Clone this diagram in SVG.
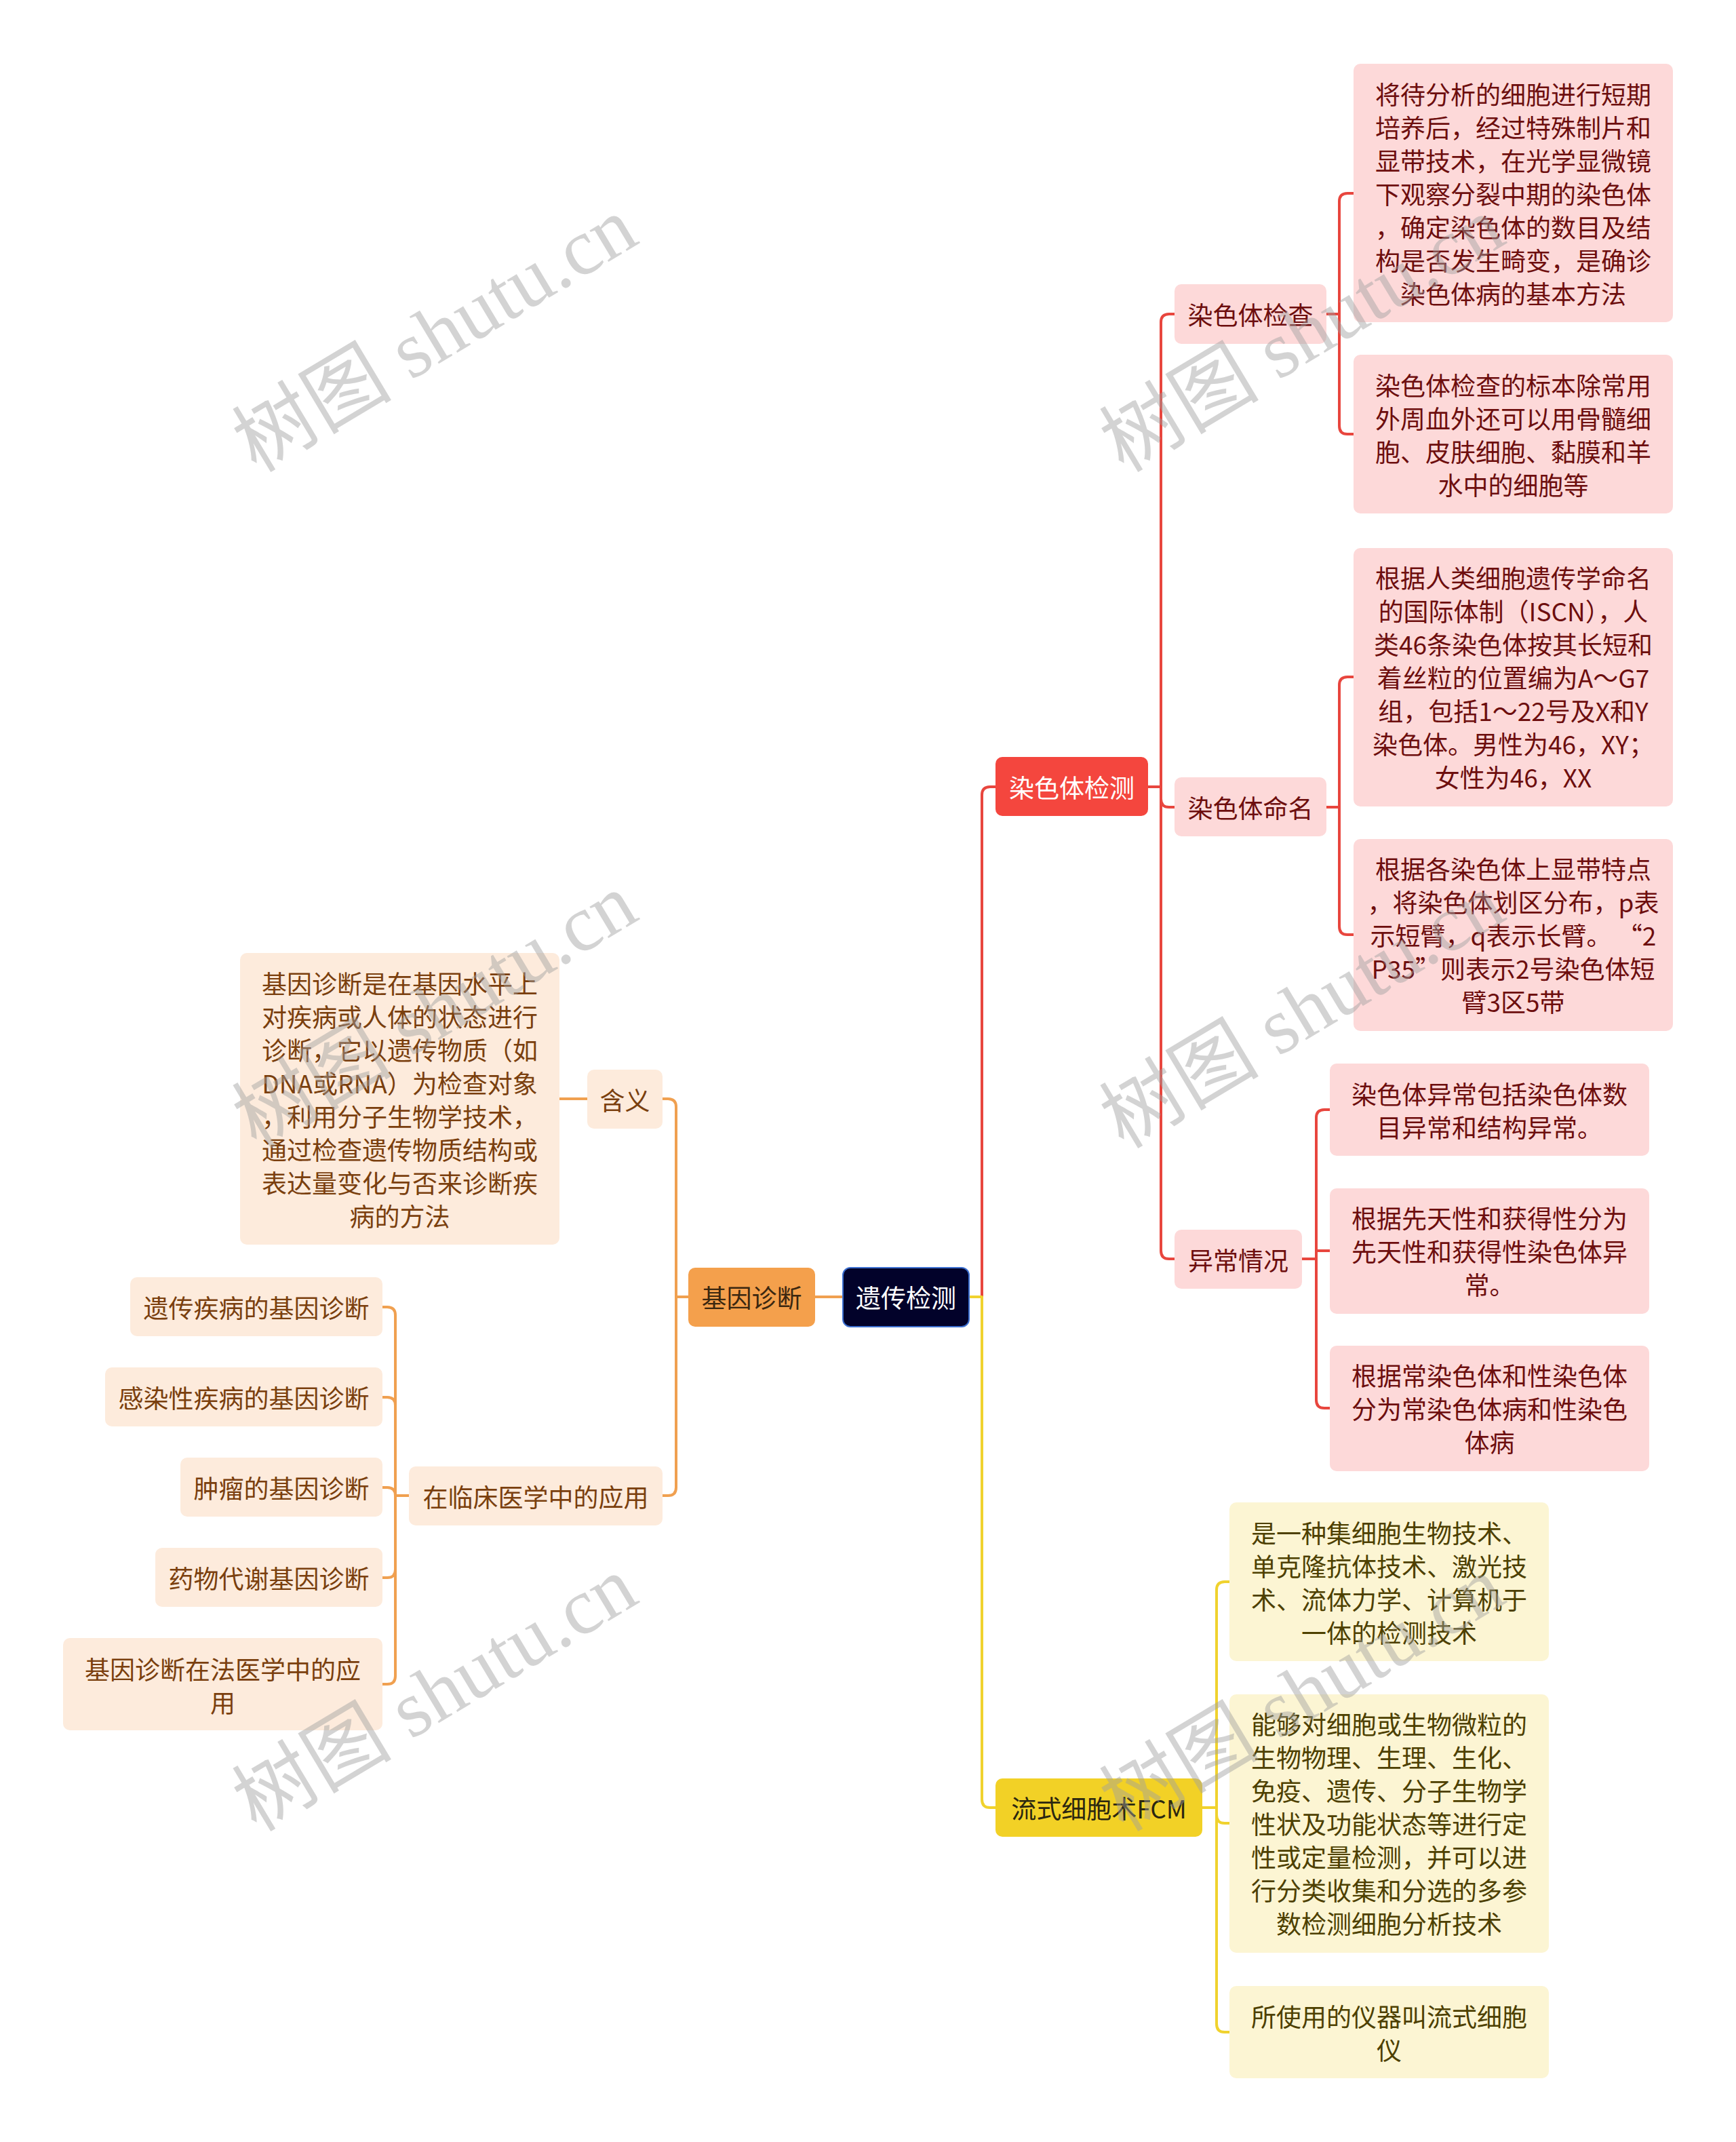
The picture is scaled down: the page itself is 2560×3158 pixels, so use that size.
<svg xmlns="http://www.w3.org/2000/svg" width="2560" height="3158" viewBox="0 0 2560 3158">
<style>
text{font-family:"Noto Sans CJK SC","Noto Sans",sans-serif;font-size:37px;text-anchor:middle;dominant-baseline:central}
.ln{fill:none;stroke-width:4;stroke-linecap:round;stroke-linejoin:round}
.lr{stroke:#e8463e}.lo{stroke:#f0a050}.ly{stroke:#f0d22e}
.root{fill:#02022a;stroke:#3c6fd0;stroke-width:2}
.rmain{fill:#f4463e}.omain{fill:#f4a04c}.ymain{fill:#f2d126}
.rsub{fill:#fdd9d9}.osub{fill:#fdebdc}.ysub{fill:#fcf5d3}
.tw{fill:#ffffff}.tr{fill:#6d0e0e}.to{fill:#7a3f0e}.ty{fill:#4d4000}.tod{fill:#3b2710}.tyd{fill:#2b2710}
.wm{font-family:"Liberation Serif","Noto Sans CJK SC",serif;font-size:118px;fill:#a0a0a0;opacity:0.45;text-anchor:start;dominant-baseline:alphabetic}
</style>
<rect width="2560" height="3158" fill="#ffffff"/>
<g id="connectors">
<path class="ln lr" d="M1429 1912 H1448 V1172 Q1448 1160 1460 1160 H1468"/>
<path class="ln ly" d="M1429 1912 H1448 V2653 Q1448 2665 1460 2665 H1468"/>
<path class="ln lo" d="M1243 1912 H1202"/>
<path class="ln lo" d="M1015 1912 H997 V1632 Q997 1620 985 1620 H977"/>
<path class="ln lo" d="M1015 1912 H997 V2193 Q997 2205 985 2205 H977"/>
<path class="ln lo" d="M866 1620 H825"/>
<path class="ln lo" d="M603 2205 H583 V1939 Q583 1927 571 1927 H564"/>
<path class="ln lo" d="M603 2205 H583 V2072 Q583 2060 571 2060 H564"/>
<path class="ln lo" d="M603 2205 H583 V2205 Q583 2193 571 2193 H564"/>
<path class="ln lo" d="M603 2205 H583 V2314 Q583 2326 571 2326 H564"/>
<path class="ln lo" d="M603 2205 H583 V2471 Q583 2483 571 2483 H564"/>
<path class="ln lr" d="M1693 1160 H1712 V475 Q1712 463 1724 463 H1732"/>
<path class="ln lr" d="M1693 1160 H1712 V1178 Q1712 1190 1724 1190 H1732"/>
<path class="ln lr" d="M1693 1160 H1712 V1844 Q1712 1856 1724 1856 H1732"/>
<path class="ln lr" d="M1956 463 H1975 V297 Q1975 285 1987 285 H1996"/>
<path class="ln lr" d="M1956 463 H1975 V628 Q1975 640 1987 640 H1996"/>
<path class="ln lr" d="M1956 1190 H1975 V1010 Q1975 998 1987 998 H1996"/>
<path class="ln lr" d="M1956 1190 H1975 V1366 Q1975 1378 1987 1378 H1996"/>
<path class="ln lr" d="M1920 1856 H1941 V1648 Q1941 1636 1953 1636 H1961"/>
<path class="ln lr" d="M1920 1856 H1941 V1844 Q1941 1844 1953 1844 H1961"/>
<path class="ln lr" d="M1920 1856 H1941 V2064 Q1941 2076 1953 2076 H1961"/>
<path class="ln ly" d="M1773 2665 H1794 V2344 Q1794 2332 1806 2332 H1813"/>
<path class="ln ly" d="M1773 2665 H1794 V2676 Q1794 2688 1806 2688 H1813"/>
<path class="ln ly" d="M1773 2665 H1794 V2984 Q1794 2996 1806 2996 H1813"/>
</g>
<g id="root"><rect class="root" x="1243" y="1869" width="186" height="87" rx="11"/><text class="tw" x="1336" y="1912">遗传检测</text></g>
<g id="n-jyzd"><rect class="omain" x="1015" y="1869" width="187" height="87" rx="10"/><text class="tod" x="1108.5" y="1912">基因诊断</text></g>
<g id="n-rstjc"><rect class="rmain" x="1468" y="1116" width="225" height="87" rx="10"/><text class="tw" x="1580.5" y="1159.5">染色体检测</text></g>
<g id="n-fcm"><rect class="ymain" x="1468" y="2622" width="305" height="86" rx="10"/><text class="tyd" x="1620.5" y="2665">流式细胞术FCM</text></g>
<g id="n-rstjcha"><rect class="rsub" x="1732" y="419" width="224" height="88" rx="10"/><text class="tr" x="1844" y="463">染色体检查</text></g>
<g id="n-rstmm"><rect class="rsub" x="1732" y="1146" width="224" height="87" rx="10"/><text class="tr" x="1844" y="1189.5">染色体命名</text></g>
<g id="n-ycqk"><rect class="rsub" x="1732" y="1813" width="188" height="87" rx="10"/><text class="tr" x="1826" y="1856.5">异常情况</text></g>
<g id="leaf-r1"><rect class="rsub" x="1996" y="94" width="471" height="381" rx="10"/><text class="tr"><tspan x="2231.5" y="138">将待分析的细胞进行短期</tspan><tspan x="2231.5" y="187">培养后，经过特殊制片和</tspan><tspan x="2231.5" y="236">显带技术，在光学显微镜</tspan><tspan x="2231.5" y="285">下观察分裂中期的染色体</tspan><tspan x="2231.5" y="334">，确定染色体的数目及结</tspan><tspan x="2231.5" y="383">构是否发生畸变，是确诊</tspan><tspan x="2231.5" y="432">染色体病的基本方法</tspan></text></g>
<g id="leaf-r2"><rect class="rsub" x="1996" y="523" width="471" height="234" rx="10"/><text class="tr"><tspan x="2231.5" y="566.5">染色体检查的标本除常用</tspan><tspan x="2231.5" y="615.5">外周血外还可以用骨髓细</tspan><tspan x="2231.5" y="664.5">胞、皮肤细胞、黏膜和羊</tspan><tspan x="2231.5" y="713.5">水中的细胞等</tspan></text></g>
<g id="leaf-r3"><rect class="rsub" x="1996" y="808" width="471" height="381" rx="10"/><text class="tr"><tspan x="2231.5" y="851">根据人类细胞遗传学命名</tspan><tspan x="2231.5" y="900">的国际体制（ISCN），人</tspan><tspan x="2231.5" y="949">类46条染色体按其长短和</tspan><tspan x="2231.5" y="998">着丝粒的位置编为A～G7</tspan><tspan x="2231.5" y="1047">组，包括1～22号及X和Y</tspan><tspan x="2231.5" y="1096">染色体。男性为46，XY；</tspan><tspan x="2231.5" y="1145">女性为46，XX</tspan></text></g>
<g id="leaf-r4"><rect class="rsub" x="1996" y="1237" width="471" height="283" rx="10"/><text class="tr"><tspan x="2231.5" y="1280">根据各染色体上显带特点</tspan><tspan x="2231.5" y="1329">，将染色体划区分布，p表</tspan><tspan x="2231.5" y="1378">示短臂，q表示长臂。 “2</tspan><tspan x="2231.5" y="1427">P35”则表示2号染色体短</tspan><tspan x="2231.5" y="1476">臂3区5带</tspan></text></g>
<g id="leaf-r5"><rect class="rsub" x="1961" y="1568" width="471" height="136" rx="10"/><text class="tr"><tspan x="2196.5" y="1611.5">染色体异常包括染色体数</tspan><tspan x="2196.5" y="1660.5">目异常和结构异常。</tspan></text></g>
<g id="leaf-r6"><rect class="rsub" x="1961" y="1752" width="471" height="185" rx="10"/><text class="tr"><tspan x="2196.5" y="1795">根据先天性和获得性分为</tspan><tspan x="2196.5" y="1844">先天性和获得性染色体异</tspan><tspan x="2196.5" y="1893">常。</tspan></text></g>
<g id="leaf-r7"><rect class="rsub" x="1961" y="1984" width="471" height="185" rx="10"/><text class="tr"><tspan x="2196.5" y="2027">根据常染色体和性染色体</tspan><tspan x="2196.5" y="2076">分为常染色体病和性染色</tspan><tspan x="2196.5" y="2125">体病</tspan></text></g>
<g id="leaf-y1"><rect class="ysub" x="1813" y="2215" width="471" height="234" rx="10"/><text class="ty"><tspan x="2048.5" y="2258.5">是一种集细胞生物技术、</tspan><tspan x="2048.5" y="2307.5">单克隆抗体技术、激光技</tspan><tspan x="2048.5" y="2356.5">术、流体力学、计算机于</tspan><tspan x="2048.5" y="2405.5">一体的检测技术</tspan></text></g>
<g id="leaf-y2"><rect class="ysub" x="1813" y="2498" width="471" height="381" rx="10"/><text class="ty"><tspan x="2048.5" y="2541">能够对细胞或生物微粒的</tspan><tspan x="2048.5" y="2590">生物物理、生理、生化、</tspan><tspan x="2048.5" y="2639">免疫、遗传、分子生物学</tspan><tspan x="2048.5" y="2688">性状及功能状态等进行定</tspan><tspan x="2048.5" y="2737">性或定量检测，并可以进</tspan><tspan x="2048.5" y="2786">行分类收集和分选的多参</tspan><tspan x="2048.5" y="2835">数检测细胞分析技术</tspan></text></g>
<g id="leaf-y3"><rect class="ysub" x="1813" y="2928" width="471" height="136" rx="10"/><text class="ty"><tspan x="2048.5" y="2971.5">所使用的仪器叫流式细胞</tspan><tspan x="2048.5" y="3020.5">仪</tspan></text></g>
<g id="n-hy"><rect class="osub" x="866" y="1577" width="111" height="87" rx="10"/><text class="to" x="921.5" y="1620.5">含义</text></g>
<g id="leaf-o0"><rect class="osub" x="354" y="1405" width="471" height="430" rx="10"/><text class="to"><tspan x="589.5" y="1448.5">基因诊断是在基因水平上</tspan><tspan x="589.5" y="1497.5">对疾病或人体的状态进行</tspan><tspan x="589.5" y="1546.5">诊断，它以遗传物质（如</tspan><tspan x="589.5" y="1595.5">DNA或RNA）为检查对象</tspan><tspan x="589.5" y="1644.5">，利用分子生物学技术，</tspan><tspan x="589.5" y="1693.5">通过检查遗传物质结构或</tspan><tspan x="589.5" y="1742.5">表达量变化与否来诊断疾</tspan><tspan x="589.5" y="1791.5">病的方法</tspan></text></g>
<g id="n-lcyy"><rect class="osub" x="603" y="2162" width="374" height="87" rx="10"/><text class="to" x="790" y="2205.5">在临床医学中的应用</text></g>
<g id="leaf-o1"><rect class="osub" x="192" y="1883" width="372" height="87" rx="10"/><text class="to" x="378" y="1926.5">遗传疾病的基因诊断</text></g>
<g id="leaf-o2"><rect class="osub" x="155" y="2016" width="409" height="87" rx="10"/><text class="to" x="359.5" y="2059.5">感染性疾病的基因诊断</text></g>
<g id="leaf-o3"><rect class="osub" x="266" y="2149" width="298" height="87" rx="10"/><text class="to" x="415" y="2192.5">肿瘤的基因诊断</text></g>
<g id="leaf-o4"><rect class="osub" x="229" y="2282" width="335" height="87" rx="10"/><text class="to" x="396.5" y="2325.5">药物代谢基因诊断</text></g>
<g id="leaf-o5"><rect class="osub" x="93" y="2415" width="471" height="136" rx="10"/><text class="to"><tspan x="328.5" y="2459.5">基因诊断在法医学中的应</tspan><tspan x="328.5" y="2508.5">用</tspan></text></g>
<g id="watermarks">
<text class="wm" transform="translate(378 698) rotate(-31)">树图 shutu.cn</text>
<text class="wm" transform="translate(1657 698) rotate(-31)">树图 shutu.cn</text>
<text class="wm" transform="translate(378 1695) rotate(-31)">树图 shutu.cn</text>
<text class="wm" transform="translate(1657 1695) rotate(-31)">树图 shutu.cn</text>
<text class="wm" transform="translate(378 2702) rotate(-31)">树图 shutu.cn</text>
<text class="wm" transform="translate(1657 2702) rotate(-31)">树图 shutu.cn</text>
</g>
</svg>
